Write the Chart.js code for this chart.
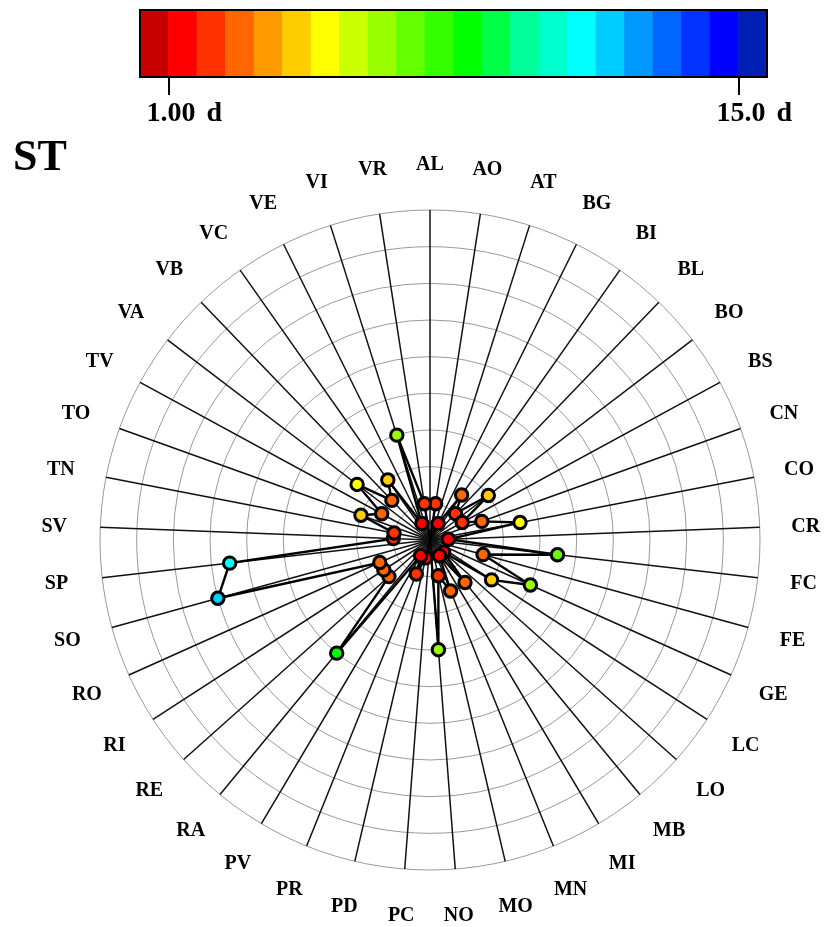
<!DOCTYPE html>
<html>
<head>
<meta charset="utf-8">
<script src="https://cdn.jsdelivr.net/npm/chart.js@4"></script>
<style>
  html, body { margin: 0; padding: 0; background: #ffffff; }
  #wrap { position: relative; width: 826px; height: 927px; }
  #main { position: absolute; left: 0; top: 0; }
  #cbar { position: absolute; left: 0; top: 0; }
</style>
</head>
<body>
<div id="wrap">
  <canvas id="main" width="826" height="927"></canvas>
  <canvas id="cbar" width="826" height="130"></canvas>
</div>
<script>
// ---------------- data ----------------
const chartTitle = 'ST';

const categories = ['AL','AO','AT','BG','BI','BL','BO','BS','CN','CO','CR','FC','FE','GE',
  'LC','LO','MB','MI','MN','MO','NO','PC','PD','PR','PV','RA','RE','RI','RO','SO','SP',
  'SV','TN','TO','TV','VA','VB','VC','VE','VI','VR'];

// days per category (radius and colour)
const days = [0, 2, 0, 1, 3, 2, 4, 2, 3, 5, 1, 7, 3, 6,
  4, 1, 3, 1, 3, 2, 6, 0, 1, 2, 1, 8, 3, 3, 3, 12, 11,
  2, 2, 4, 3, 5, 3, 4, 1, 6, 2];

// colour bar
const colorbarEdges = [0.3, 1.0, 1.7, 2.4, 3.1, 3.8, 4.5, 5.2, 5.9, 6.6, 7.3, 8.0,
  8.7, 9.4, 10.1, 10.8, 11.5, 12.2, 12.9, 13.6, 14.3, 15.0, 15.7];
const colorbarColors = ['#c80000','#ff0000','#ff3300','#ff6600','#ff9900','#ffcc00',
  '#ffff00','#ccff00','#99ff00','#66ff00','#33ff00','#00ff00','#00ff44','#00ff99',
  '#00ffcc','#00ffff','#00ccff','#0099ff','#0066ff','#0033ff','#0000ff','#001fb4'];
const colorbarTickValues = [1, 15];
const colorbarTickLabels = ['1.00', '15.0'];
const colorbarUnit = 'd';

// radial axis range (days)
const radialMin = 0;
const radialMax = 18;
const radialStep = 2;

// ---------------- helpers ----------------
function colorForDays(d) {
  for (let i = 0; i < colorbarColors.length; i++) {
    if (d < colorbarEdges[i + 1] - 1e-9) return colorbarColors[i];
  }
  return colorbarColors[colorbarColors.length - 1];
}

const SERIF = '"Liberation Serif", "Times New Roman", Times, serif';

const labelPlugin = {
  id: 'catLabels',
  afterDraw(chart) {
    const s = chart.scales.r;
    const ctx = chart.ctx;
    ctx.save();
    ctx.fillStyle = '#000';
    ctx.font = 'bold 20px ' + SERIF;
    ctx.textAlign = 'center';
    ctx.textBaseline = 'middle';
    categories.forEach((c, i) => {
      const p = s.getPointPosition(i, s.drawingArea + 46);
      ctx.fillText(c, p.x, p.y + 1);
    });
    ctx.font = 'bold 44px ' + SERIF;
    ctx.textAlign = 'left';
    ctx.textBaseline = 'alphabetic';
    ctx.fillText(chartTitle, 13, 170);
    ctx.restore();
  }
};

new Chart(document.getElementById('main'), {
  type: 'radar',
  data: {
    labels: categories,
    datasets: [{
      data: days,
      borderColor: '#000',
      borderWidth: 2.4,
      fill: false,
      tension: 0,
      pointBackgroundColor: days.map(colorForDays),
      pointBorderColor: '#000',
      pointBorderWidth: 3,
      pointRadius: days.map(d => d > 0 ? 6.2 : 0),
      pointHoverRadius: days.map(d => d > 0 ? 6.2 : 0)
    }]
  },
  options: {
    responsive: false,
    devicePixelRatio: 1,
    animation: false,
    events: [],
    layout: { padding: { left: 100, top: 210, right: 66, bottom: 57 } },
    plugins: { legend: { display: false }, tooltip: { enabled: false } },
    scales: {
      r: {
        min: radialMin,
        max: radialMax,
        startAngle: 0,
        ticks: { display: false, stepSize: radialStep },
        grid: { circular: true, color: '#999999', lineWidth: 1 },
        angleLines: { display: true, color: '#111111', lineWidth: 1.5 },
        pointLabels: { display: false }
      }
    }
  },
  plugins: [labelPlugin]
});

// ---------------- colour bar ----------------
const cbPlugin = {
  id: 'cbDecor',
  afterDraw(chart) {
    const ctx = chart.ctx;
    const a = chart.chartArea;
    const xs = chart.scales.x;
    ctx.save();
    ctx.strokeStyle = '#000';
    ctx.lineWidth = 2;
    ctx.strokeRect(a.left, a.top, a.right - a.left, a.bottom - a.top);
    ctx.fillStyle = '#000';
    ctx.font = 'bold 28px ' + SERIF;
    ctx.textBaseline = 'alphabetic';
    colorbarTickValues.forEach((v, i) => {
      const x = Math.round(xs.getPixelForValue(v));
      ctx.beginPath();
      ctx.moveTo(x, a.bottom);
      ctx.lineTo(x, a.bottom + 18);
      ctx.stroke();
      const lab = colorbarTickLabels[i];
      ctx.textAlign = 'center';
      ctx.fillText(lab, x + 2, a.bottom + 44);
      const w = ctx.measureText(lab).width;
      ctx.textAlign = 'left';
      ctx.fillText(colorbarUnit, x + 2 + w / 2 + 11, a.bottom + 44);
    });
    ctx.restore();
  }
};

new Chart(document.getElementById('cbar'), {
  type: 'bar',
  data: {
    labels: ['cb'],
    datasets: [{
      data: colorbarColors.map((c, i) => ({ x: [colorbarEdges[i], colorbarEdges[i + 1]], y: 'cb' })),
      backgroundColor: colorbarColors,
      borderWidth: 0,
      borderSkipped: false,
      barPercentage: 1,
      categoryPercentage: 1
    }]
  },
  options: {
    indexAxis: 'y',
    responsive: false,
    devicePixelRatio: 1,
    animation: false,
    events: [],
    layout: { padding: { left: 140, right: 59, top: 10, bottom: 53 } },
    plugins: { legend: { display: false }, tooltip: { enabled: false } },
    scales: {
      x: { type: 'linear', min: colorbarEdges[0], max: colorbarEdges[colorbarEdges.length - 1], display: false },
      y: { type: 'category', display: false }
    }
  },
  plugins: [cbPlugin]
});
</script>
</body>
</html>
